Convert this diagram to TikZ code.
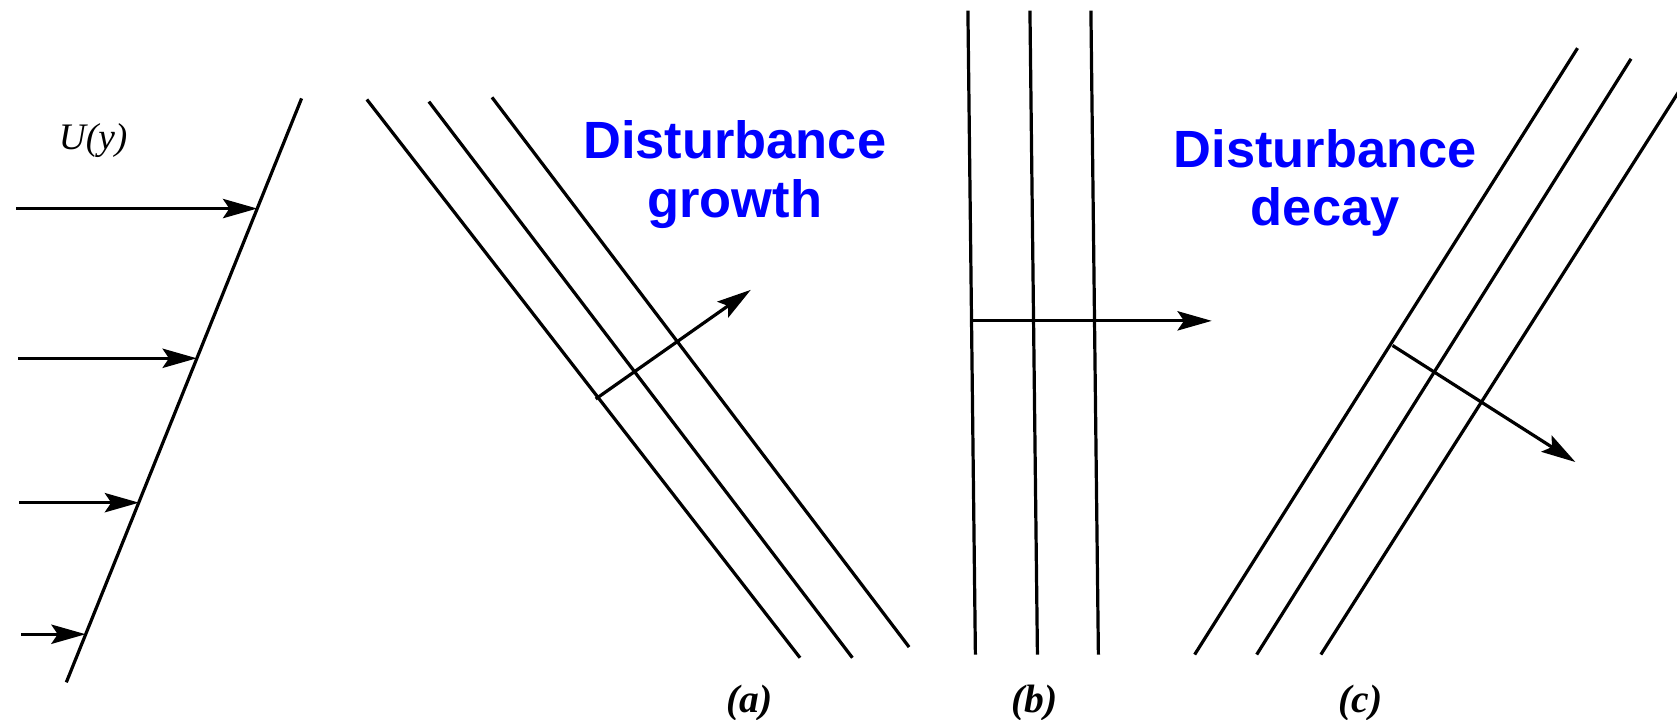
\documentclass[tikz,border=0pt]{standalone}
\usepackage{fontspec}
\newfontfamily\labelfont{Liberation Sans}
\newfontfamily\scanfont{Liberation Serif}
\usetikzlibrary{arrows.meta}
\tikzset{
  wave/.style={line width=3pt, black},
  flow/.style={line width=3pt, black, -{Stealth[length=32pt,width=18pt,inset=6pt]}},
  blue label/.style={text=blue, font=\labelfont\bfseries\fontsize{49}{55}\selectfont, anchor=base, inner sep=0pt},
  panel label/.style={font=\scanfont\bfseries\itshape\fontsize{37}{40}\selectfont, inner sep=0pt},
}
\begin{document}
\begin{tikzpicture}[x=1pt, y=-1pt]
\useasboundingbox (0,0) rectangle (1568,673);
% ---- velocity profile ----
\coordinate (p1) at (282,92);
\coordinate (p2) at (62,638);
\draw[wave] (p1) -- (p2);
\coordinate (u1s) at (15,195);  \coordinate (u1e) at (240.5,195);
\coordinate (u2s) at (17,335);  \coordinate (u2e) at (184,335);
\coordinate (u3s) at (18,470);  \coordinate (u3e) at (130,470);
\coordinate (u4s) at (20,593);  \coordinate (u4e) at (80,593);
\draw[flow] (u1s) -- (u1e);
\draw[flow] (u2s) -- (u2e);
\draw[flow] (u3s) -- (u3e);
\draw[flow] (u4s) -- (u4e);
\node[font=\scanfont\itshape\fontsize{35}{38}\selectfont, inner sep=0pt] (U) at (87,131) {U(y)};
% ---- panel (a) ----
\coordinate (a1t) at (343,93);  \coordinate (a1b) at (748,615);
\coordinate (a2t) at (401,95);  \coordinate (a2b) at (797,615);
\coordinate (a3t) at (460,91);  \coordinate (a3b) at (850,605);
\draw[wave] (a1t) -- (a1b);
\draw[wave] (a2t) -- (a2b);
\draw[wave] (a3t) -- (a3b);
\coordinate (aks) at (557,373); \coordinate (ake) at (702,271);
\draw[flow] (aks) -- (ake);
\node[blue label] (g1) at (687,148) {Disturbance};
\node[blue label] (g2) at (687,203) {growth};
\node[panel label] (la) at (701,657) {(a)};
% ---- panel (b) ----
\coordinate (b1t) at (905,10);  \coordinate (b1b) at (912,612);
\coordinate (b2t) at (963,10);  \coordinate (b2b) at (970,612);
\coordinate (b3t) at (1020,10); \coordinate (b3b) at (1027,612);
\draw[wave] (b1t) -- (b1b);
\draw[wave] (b2t) -- (b2b);
\draw[wave] (b3t) -- (b3b);
\coordinate (bks) at (907,300); \coordinate (bke) at (1133,300);
\draw[flow] (bks) -- (bke);
\node[panel label] (lb) at (967,657) {(b)};
% ---- panel (c) ----
\coordinate (c1b) at (1117,612); \coordinate (c1t) at (1475,45);
\coordinate (c2b) at (1175,612); \coordinate (c2t) at (1525,55);
\coordinate (c3b) at (1235,612); \coordinate (c3t) at (1572,82);
\draw[wave] (c1b) -- (c1t);
\draw[wave] (c2b) -- (c2t);
\draw[wave] (c3b) -- (c3t);
\coordinate (cks) at (1302,323); \coordinate (cke) at (1473,432);
\draw[flow] (cks) -- (cke);
\node[blue label] (d1) at (1239,157) {Disturbance};
\node[blue label] (d2) at (1239,211) {decay};
\node[panel label] (lc) at (1272,657) {(c)};
\end{tikzpicture}
\end{document}
